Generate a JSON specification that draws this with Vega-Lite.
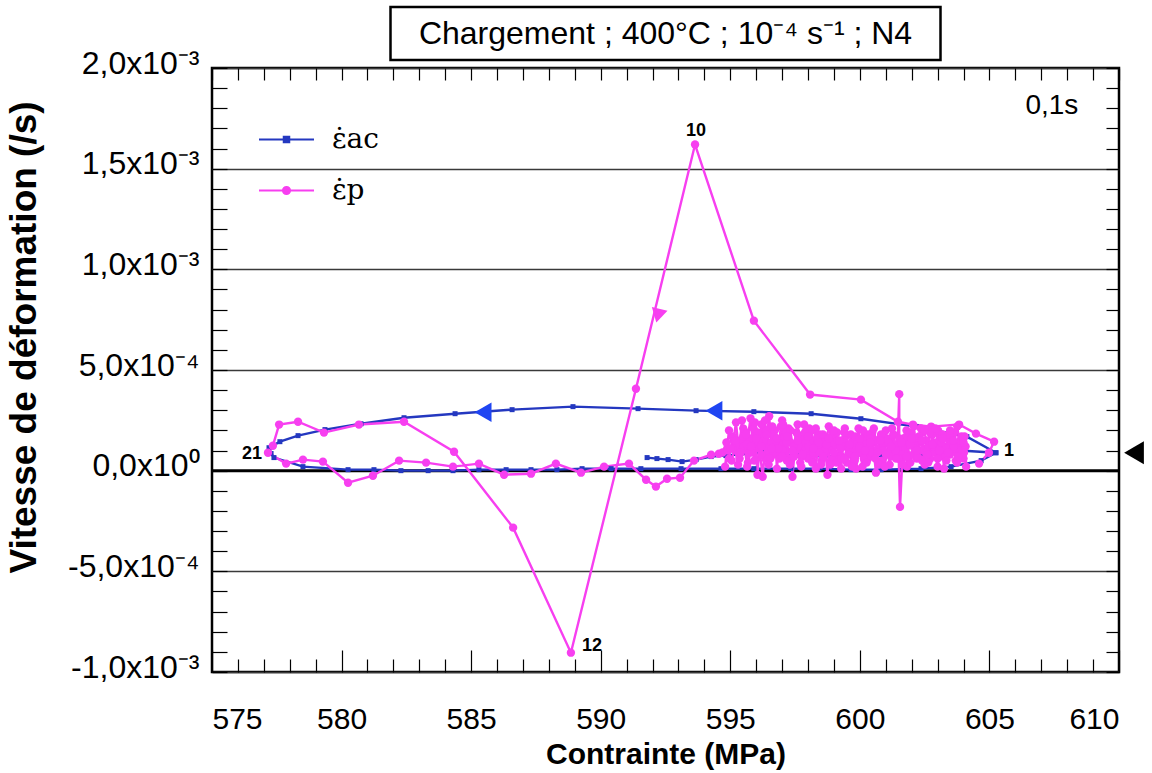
{
  "$schema": "https://vega.github.io/schema/vega-lite/v6.json",
  "autosize": {"type": "pad"},
  "padding": {"left": 3, "top": 5, "right": 5, "bottom": 5},
  "background": "white",
  "config": {
    "view": {"stroke": "black", "strokeWidth": 2.5},
    "font": "Liberation Sans",
    "axis": {"tickColor": "black", "tickWidth": 1.2, "labelColor": "black", "titleColor": "black", "domain": false, "labelOverlap": false}
  },
  "spacing": 8,
  "bounds": "flush",
  "center": true,
  "datasets": {
    "curves": [
      {"series": "ac", "o": 1, "x": 591.79, "y": 0.000065},
      {"series": "ac", "o": 2, "x": 592.17, "y": 0.000060},
      {"series": "ac", "o": 3, "x": 592.60, "y": 0.000055},
      {"series": "ac", "o": 4, "x": 593.14, "y": 0.000045},
      {"series": "ac", "o": 5, "x": 593.68, "y": 0.000055},
      {"series": "ac", "o": 6, "x": 594.26, "y": 0.000070},
      {"series": "ac", "o": 7, "x": 594.83, "y": 0.000075},
      {"series": "ac", "o": 8, "x": 596.19, "y": 0.000089},
      {"series": "ac", "o": 9, "x": 597.54, "y": 0.000075},
      {"series": "ac", "o": 10, "x": 599.00, "y": 0.000070},
      {"series": "ac", "o": 11, "x": 599.54, "y": 0.000075},
      {"series": "ac", "o": 12, "x": 600.82, "y": 0.000080},
      {"series": "ac", "o": 13, "x": 602.36, "y": 0.000089},
      {"series": "ac", "o": 14, "x": 604.02, "y": 0.000099},
      {"series": "ac", "o": 15, "x": 605.25, "y": 0.000089},
      {"series": "ac", "o": 16, "x": 604.13, "y": 0.000169},
      {"series": "ac", "o": 17, "x": 602.17, "y": 0.000219},
      {"series": "ac", "o": 18, "x": 600.04, "y": 0.000258},
      {"series": "ac", "o": 19, "x": 598.12, "y": 0.000283},
      {"series": "ac", "o": 20, "x": 595.91, "y": 0.000293},
      {"series": "ac", "o": 21, "x": 593.68, "y": 0.000298},
      {"series": "ac", "o": 22, "x": 591.44, "y": 0.000308},
      {"series": "ac", "o": 23, "x": 588.93, "y": 0.000318},
      {"series": "ac", "o": 24, "x": 586.58, "y": 0.000303},
      {"series": "ac", "o": 25, "x": 584.38, "y": 0.000283},
      {"series": "ac", "o": 26, "x": 582.41, "y": 0.000263},
      {"series": "ac", "o": 27, "x": 580.75, "y": 0.000233},
      {"series": "ac", "o": 28, "x": 579.36, "y": 0.000204},
      {"series": "ac", "o": 29, "x": 578.32, "y": 0.000174},
      {"series": "ac", "o": 30, "x": 577.62, "y": 0.000144},
      {"series": "ac", "o": 31, "x": 577.20, "y": 0.000114},
      {"series": "ac", "o": 32, "x": 577.28, "y": 0.000085},
      {"series": "ac", "o": 33, "x": 577.39, "y": 0.000065},
      {"series": "ac", "o": 34, "x": 578.51, "y": 0.000020},
      {"series": "ac", "o": 35, "x": 580.25, "y": 0.000005},
      {"series": "ac", "o": 36, "x": 581.25, "y": 0.000005},
      {"series": "ac", "o": 37, "x": 582.29, "y": 0.0},
      {"series": "ac", "o": 38, "x": 583.34, "y": 0.0},
      {"series": "ac", "o": 39, "x": 584.30, "y": 0.0},
      {"series": "ac", "o": 40, "x": 585.30, "y": 0.000005},
      {"series": "ac", "o": 41, "x": 586.35, "y": 0.000005},
      {"series": "ac", "o": 42, "x": 587.31, "y": 0.000005},
      {"series": "ac", "o": 43, "x": 588.31, "y": 0.000005},
      {"series": "ac", "o": 44, "x": 589.28, "y": 0.000010},
      {"series": "ac", "o": 45, "x": 590.40, "y": 0.000010},
      {"series": "ac", "o": 46, "x": 591.55, "y": 0.000010},
      {"series": "ac", "o": 47, "x": 593.10, "y": 0.000010},
      {"series": "ac", "o": 48, "x": 594.64, "y": 0.000010},
      {"series": "ac", "o": 49, "x": 595.91, "y": 0.000010},
      {"series": "ac", "o": 50, "x": 597.34, "y": 0.000010},
      {"series": "ac", "o": 51, "x": 598.42, "y": 0.000010},
      {"series": "ac", "o": 52, "x": 599.66, "y": 0.000005},
      {"series": "ac", "o": 53, "x": 600.82, "y": 0.000005},
      {"series": "ac", "o": 54, "x": 602.36, "y": 0.000010},
      {"series": "ac", "o": 55, "x": 603.52, "y": 0.000020},
      {"series": "ac", "o": 56, "x": 604.68, "y": 0.000050},
      {"series": "ac", "o": 57, "x": 605.25, "y": 0.000089},
      {"series": "p", "o": 1, "x": 604.60, "y": 0.000035},
      {"series": "p", "o": 2, "x": 604.98, "y": 0.000089},
      {"series": "p", "o": 3, "x": 605.18, "y": 0.000144},
      {"series": "p", "o": 4, "x": 604.48, "y": 0.000184},
      {"series": "p", "o": 5, "x": 603.83, "y": 0.000229},
      {"series": "p", "o": 6, "x": 602.75, "y": 0.000219},
      {"series": "p", "o": 7, "x": 602.05, "y": 0.000229},
      {"series": "p", "o": 8, "x": 601.47, "y": 0.000243},
      {"series": "p", "o": 9, "x": 600.04, "y": 0.000353},
      {"series": "p", "o": 10, "x": 598.08, "y": 0.000378},
      {"series": "p", "o": 11, "x": 595.91, "y": 0.000745},
      {"series": "p", "o": 12, "x": 593.64, "y": 0.001620},
      {"series": "p", "o": 13, "x": 591.36, "y": 0.000407},
      {"series": "p", "o": 14, "x": 588.85, "y": -0.000904},
      {"series": "p", "o": 15, "x": 586.62, "y": -0.000283},
      {"series": "p", "o": 16, "x": 584.34, "y": 0.000094},
      {"series": "p", "o": 17, "x": 582.41, "y": 0.000243},
      {"series": "p", "o": 18, "x": 580.67, "y": 0.000229},
      {"series": "p", "o": 19, "x": 579.32, "y": 0.000189},
      {"series": "p", "o": 20, "x": 578.32, "y": 0.000243},
      {"series": "p", "o": 21, "x": 577.59, "y": 0.000229},
      {"series": "p", "o": 22, "x": 577.35, "y": 0.000124},
      {"series": "p", "o": 23, "x": 577.16, "y": 0.000089},
      {"series": "p", "o": 24, "x": 577.86, "y": 0.000035},
      {"series": "p", "o": 25, "x": 578.51, "y": 0.000055},
      {"series": "p", "o": 26, "x": 579.28, "y": 0.000045},
      {"series": "p", "o": 27, "x": 580.25, "y": -0.000060},
      {"series": "p", "o": 28, "x": 581.21, "y": -0.000025},
      {"series": "p", "o": 29, "x": 582.22, "y": 0.000050},
      {"series": "p", "o": 30, "x": 583.26, "y": 0.000040},
      {"series": "p", "o": 31, "x": 584.30, "y": 0.000020},
      {"series": "p", "o": 32, "x": 585.30, "y": 0.000035},
      {"series": "p", "o": 33, "x": 586.27, "y": -0.000020},
      {"series": "p", "o": 34, "x": 587.31, "y": -0.000015},
      {"series": "p", "o": 35, "x": 588.27, "y": 0.000035},
      {"series": "p", "o": 36, "x": 589.24, "y": -0.000010},
      {"series": "p", "o": 37, "x": 590.13, "y": 0.000020},
      {"series": "p", "o": 38, "x": 591.09, "y": 0.000035},
      {"series": "p", "o": 39, "x": 591.75, "y": -0.000045},
      {"series": "p", "o": 40, "x": 592.13, "y": -0.000079},
      {"series": "p", "o": 41, "x": 592.56, "y": -0.000040},
      {"series": "p", "o": 42, "x": 593.06, "y": -0.000035},
      {"series": "p", "o": 43, "x": 593.60, "y": 0.000050},
      {"series": "p", "o": 44, "x": 594.26, "y": 0.000079},
      {"series": "p", "o": 45, "x": 594.56, "y": 0.000084},
      {"series": "p", "o": 46, "x": 594.70, "y": 0.000090},
      {"series": "p", "o": 47, "x": 594.85, "y": 0.000140},
      {"series": "p", "o": 48, "x": 594.95, "y": 0.000060},
      {"series": "p", "o": 49, "x": 595.10, "y": 0.000170},
      {"series": "p", "o": 50, "x": 595.20, "y": 0.000100},
      {"series": "p", "o": 51, "x": 595.30, "y": 0.000030},
      {"series": "p", "o": 52, "x": 595.38, "y": 0.000150},
      {"series": "p", "o": 53, "x": 595.45, "y": 0.000250},
      {"series": "p", "o": 54, "x": 595.52, "y": 0.000120},
      {"series": "p", "o": 55, "x": 595.60, "y": 0.000190},
      {"series": "p", "o": 56, "x": 595.68, "y": 0.000040},
      {"series": "p", "o": 57, "x": 595.75, "y": 0.000160},
      {"series": "p", "o": 58, "x": 595.82, "y": 0.000090},
      {"series": "p", "o": 59, "x": 595.90, "y": 0.000210},
      {"series": "p", "o": 60, "x": 595.98, "y": 0.000130},
      {"series": "p", "o": 61, "x": 596.05, "y": -0.000020},
      {"series": "p", "o": 62, "x": 596.12, "y": 0.000110},
      {"series": "p", "o": 63, "x": 596.20, "y": 0.000230},
      {"series": "p", "o": 64, "x": 596.28, "y": 0.000150},
      {"series": "p", "o": 65, "x": 596.35, "y": 0.000060},
      {"series": "p", "o": 66, "x": 596.42, "y": 0.000180},
      {"series": "p", "o": 67, "x": 596.50, "y": 0.000270},
      {"series": "p", "o": 68, "x": 596.58, "y": 0.000140},
      {"series": "p", "o": 69, "x": 596.65, "y": 0.000080},
      {"series": "p", "o": 70, "x": 596.72, "y": 0.000200},
      {"series": "p", "o": 71, "x": 596.80, "y": 0.000010},
      {"series": "p", "o": 72, "x": 596.88, "y": 0.000130},
      {"series": "p", "o": 73, "x": 596.95, "y": 0.000220},
      {"series": "p", "o": 74, "x": 597.02, "y": 0.000100},
      {"series": "p", "o": 75, "x": 597.10, "y": 0.000170},
      {"series": "p", "o": 76, "x": 597.18, "y": 0.000050},
      {"series": "p", "o": 77, "x": 597.25, "y": 0.000210},
      {"series": "p", "o": 78, "x": 597.32, "y": 0.000140},
      {"series": "p", "o": 79, "x": 597.40, "y": -0.000030},
      {"series": "p", "o": 80, "x": 597.48, "y": 0.000090},
      {"series": "p", "o": 81, "x": 597.55, "y": 0.000190},
      {"series": "p", "o": 82, "x": 597.62, "y": 0.000120},
      {"series": "p", "o": 83, "x": 597.70, "y": 0.000040},
      {"series": "p", "o": 84, "x": 597.78, "y": 0.000160},
      {"series": "p", "o": 85, "x": 597.85, "y": 0.000230},
      {"series": "p", "o": 86, "x": 597.92, "y": 0.000110},
      {"series": "p", "o": 87, "x": 598.00, "y": 0.000060},
      {"series": "p", "o": 88, "x": 598.08, "y": 0.000150},
      {"series": "p", "o": 89, "x": 598.15, "y": 0.000200},
      {"series": "p", "o": 90, "x": 598.22, "y": 0.000080},
      {"series": "p", "o": 91, "x": 598.30, "y": 0.000010},
      {"series": "p", "o": 92, "x": 598.38, "y": 0.000120},
      {"series": "p", "o": 93, "x": 598.45, "y": 0.000180},
      {"series": "p", "o": 94, "x": 598.52, "y": 0.000050},
      {"series": "p", "o": 95, "x": 598.60, "y": 0.000140},
      {"series": "p", "o": 96, "x": 598.68, "y": 0.000090},
      {"series": "p", "o": 97, "x": 598.75, "y": -0.000020},
      {"series": "p", "o": 98, "x": 598.82, "y": 0.000110},
      {"series": "p", "o": 99, "x": 598.90, "y": 0.000170},
      {"series": "p", "o": 100, "x": 598.98, "y": 0.000060},
      {"series": "p", "o": 101, "x": 599.05, "y": 0.000130},
      {"series": "p", "o": 102, "x": 599.12, "y": 0.000190},
      {"series": "p", "o": 103, "x": 599.20, "y": 0.000070},
      {"series": "p", "o": 104, "x": 599.28, "y": 0.000010},
      {"series": "p", "o": 105, "x": 599.35, "y": 0.000120},
      {"series": "p", "o": 106, "x": 599.42, "y": 0.000160},
      {"series": "p", "o": 107, "x": 599.50, "y": 0.000040},
      {"series": "p", "o": 108, "x": 599.58, "y": 0.000100},
      {"series": "p", "o": 109, "x": 599.65, "y": 0.000180},
      {"series": "p", "o": 110, "x": 599.72, "y": 0.000130},
      {"series": "p", "o": 111, "x": 599.80, "y": 0.000050},
      {"series": "p", "o": 112, "x": 599.88, "y": 0.000150},
      {"series": "p", "o": 113, "x": 599.95, "y": 0.000210},
      {"series": "p", "o": 114, "x": 600.02, "y": 0.000090},
      {"series": "p", "o": 115, "x": 600.10, "y": 0.000020},
      {"series": "p", "o": 116, "x": 600.18, "y": 0.000140},
      {"series": "p", "o": 117, "x": 600.25, "y": 0.000170},
      {"series": "p", "o": 118, "x": 600.32, "y": 0.000060},
      {"series": "p", "o": 119, "x": 600.40, "y": 0.000120},
      {"series": "p", "o": 120, "x": 600.48, "y": 0.000190},
      {"series": "p", "o": 121, "x": 600.55, "y": 0.000080},
      {"series": "p", "o": 122, "x": 600.62, "y": -0.000010},
      {"series": "p", "o": 123, "x": 600.70, "y": 0.000110},
      {"series": "p", "o": 124, "x": 600.78, "y": 0.000160},
      {"series": "p", "o": 125, "x": 600.85, "y": 0.000050},
      {"series": "p", "o": 126, "x": 600.92, "y": 0.000130},
      {"series": "p", "o": 127, "x": 601.00, "y": 0.000200},
      {"series": "p", "o": 128, "x": 601.08, "y": 0.000090},
      {"series": "p", "o": 129, "x": 601.15, "y": 0.000030},
      {"series": "p", "o": 130, "x": 601.22, "y": 0.000150},
      {"series": "p", "o": 131, "x": 601.30, "y": 0.000180},
      {"series": "p", "o": 132, "x": 601.38, "y": 0.000070},
      {"series": "p", "o": 133, "x": 601.45, "y": 0.000120},
      {"series": "p", "o": 134, "x": 601.52, "y": 0.000380},
      {"series": "p", "o": 135, "x": 601.52, "y": 0.000100},
      {"series": "p", "o": 136, "x": 601.60, "y": 0.000050},
      {"series": "p", "o": 137, "x": 601.68, "y": 0.000160},
      {"series": "p", "o": 138, "x": 601.75, "y": 0.000110},
      {"series": "p", "o": 139, "x": 601.82, "y": 0.000020},
      {"series": "p", "o": 140, "x": 601.90, "y": 0.000140},
      {"series": "p", "o": 141, "x": 601.98, "y": 0.000190},
      {"series": "p", "o": 142, "x": 602.05, "y": 0.000080},
      {"series": "p", "o": 143, "x": 602.12, "y": 0.000130},
      {"series": "p", "o": 144, "x": 602.20, "y": 0.000060},
      {"series": "p", "o": 145, "x": 602.28, "y": 0.000170},
      {"series": "p", "o": 146, "x": 602.35, "y": 0.000210},
      {"series": "p", "o": 147, "x": 602.42, "y": 0.000100},
      {"series": "p", "o": 148, "x": 602.50, "y": 0.000030},
      {"series": "p", "o": 149, "x": 602.58, "y": 0.000150},
      {"series": "p", "o": 150, "x": 602.65, "y": 0.000120},
      {"series": "p", "o": 151, "x": 602.72, "y": 0.000060},
      {"series": "p", "o": 152, "x": 602.80, "y": 0.000180},
      {"series": "p", "o": 153, "x": 602.88, "y": 0.000090},
      {"series": "p", "o": 154, "x": 602.95, "y": 0.000140},
      {"series": "p", "o": 155, "x": 603.02, "y": 0.000200},
      {"series": "p", "o": 156, "x": 603.10, "y": 0.000070},
      {"series": "p", "o": 157, "x": 603.18, "y": 0.000120},
      {"series": "p", "o": 158, "x": 603.25, "y": 0.000010},
      {"series": "p", "o": 159, "x": 603.32, "y": 0.000110},
      {"series": "p", "o": 160, "x": 603.40, "y": 0.000160},
      {"series": "p", "o": 161, "x": 603.48, "y": 0.000080},
      {"series": "p", "o": 162, "x": 603.55, "y": 0.000140},
      {"series": "p", "o": 163, "x": 603.62, "y": 0.000190},
      {"series": "p", "o": 164, "x": 603.70, "y": 0.000050},
      {"series": "p", "o": 165, "x": 603.78, "y": 0.000130},
      {"series": "p", "o": 166, "x": 603.85, "y": 0.000100},
      {"series": "p", "o": 167, "x": 603.92, "y": 0.000170},
      {"series": "p", "o": 168, "x": 604.00, "y": 0.000060},
      {"series": "p", "o": 169, "x": 604.08, "y": 0.000120},
      {"series": "p", "o": 170, "x": 604.10, "y": 0.000020},
      {"series": "p", "o": 171, "x": 604.02, "y": 0.000090},
      {"series": "p", "o": 172, "x": 603.88, "y": 0.000150},
      {"series": "p", "o": 173, "x": 603.75, "y": 0.000040},
      {"series": "p", "o": 174, "x": 603.60, "y": 0.000110},
      {"series": "p", "o": 175, "x": 603.45, "y": 0.000180},
      {"series": "p", "o": 176, "x": 603.30, "y": 0.000070},
      {"series": "p", "o": 177, "x": 603.15, "y": 0.000140},
      {"series": "p", "o": 178, "x": 603.00, "y": 0.000020},
      {"series": "p", "o": 179, "x": 602.85, "y": 0.000120},
      {"series": "p", "o": 180, "x": 602.70, "y": 0.000190},
      {"series": "p", "o": 181, "x": 602.55, "y": 0.000090},
      {"series": "p", "o": 182, "x": 602.40, "y": 0.000050},
      {"series": "p", "o": 183, "x": 602.25, "y": 0.000160},
      {"series": "p", "o": 184, "x": 602.10, "y": 0.000110},
      {"series": "p", "o": 185, "x": 601.95, "y": 0.000040},
      {"series": "p", "o": 186, "x": 601.80, "y": 0.000170},
      {"series": "p", "o": 187, "x": 601.65, "y": 0.000080},
      {"series": "p", "o": 188, "x": 601.55, "y": -0.000180},
      {"series": "p", "o": 189, "x": 601.50, "y": 0.000060},
      {"series": "p", "o": 190, "x": 601.35, "y": 0.000130},
      {"series": "p", "o": 191, "x": 601.20, "y": 0.000070},
      {"series": "p", "o": 192, "x": 601.05, "y": 0.000160},
      {"series": "p", "o": 193, "x": 600.90, "y": 0.000100},
      {"series": "p", "o": 194, "x": 600.75, "y": 0.000030},
      {"series": "p", "o": 195, "x": 600.60, "y": 0.000150},
      {"series": "p", "o": 196, "x": 600.45, "y": 0.000090},
      {"series": "p", "o": 197, "x": 600.30, "y": 0.000180},
      {"series": "p", "o": 198, "x": 600.15, "y": 0.000060},
      {"series": "p", "o": 199, "x": 600.00, "y": 0.000120},
      {"series": "p", "o": 200, "x": 599.85, "y": 0.000010},
      {"series": "p", "o": 201, "x": 599.70, "y": 0.000140},
      {"series": "p", "o": 202, "x": 599.55, "y": 0.000080},
      {"series": "p", "o": 203, "x": 599.40, "y": 0.000190},
      {"series": "p", "o": 204, "x": 599.25, "y": 0.000110},
      {"series": "p", "o": 205, "x": 599.10, "y": 0.000040},
      {"series": "p", "o": 206, "x": 598.95, "y": 0.000140},
      {"series": "p", "o": 207, "x": 598.80, "y": 0.000220},
      {"series": "p", "o": 208, "x": 598.65, "y": 0.000100},
      {"series": "p", "o": 209, "x": 598.50, "y": 0.000030},
      {"series": "p", "o": 210, "x": 598.35, "y": 0.000160},
      {"series": "p", "o": 211, "x": 598.20, "y": 0.000090},
      {"series": "p", "o": 212, "x": 598.05, "y": 0.000210},
      {"series": "p", "o": 213, "x": 597.90, "y": 0.000140},
      {"series": "p", "o": 214, "x": 597.75, "y": 0.000070},
      {"series": "p", "o": 215, "x": 597.60, "y": 0.000230},
      {"series": "p", "o": 216, "x": 597.45, "y": 0.000120},
      {"series": "p", "o": 217, "x": 597.30, "y": 0.000030},
      {"series": "p", "o": 218, "x": 597.15, "y": 0.000190},
      {"series": "p", "o": 219, "x": 597.00, "y": 0.000250},
      {"series": "p", "o": 220, "x": 596.85, "y": 0.000110},
      {"series": "p", "o": 221, "x": 596.70, "y": 0.000170},
      {"series": "p", "o": 222, "x": 596.55, "y": 0.000060},
      {"series": "p", "o": 223, "x": 596.40, "y": 0.000200},
      {"series": "p", "o": 224, "x": 596.25, "y": -0.000030},
      {"series": "p", "o": 225, "x": 596.10, "y": 0.000140},
      {"series": "p", "o": 226, "x": 595.95, "y": 0.000240},
      {"series": "p", "o": 227, "x": 595.80, "y": 0.000100},
      {"series": "p", "o": 228, "x": 595.65, "y": 0.000020},
      {"series": "p", "o": 229, "x": 595.50, "y": 0.000170},
      {"series": "p", "o": 230, "x": 595.35, "y": 0.000080},
      {"series": "p", "o": 231, "x": 595.20, "y": 0.000130},
      {"series": "p", "o": 232, "x": 595.05, "y": 0.000050},
      {"series": "p", "o": 233, "x": 594.90, "y": 0.000100},
      {"series": "p", "o": 234, "x": 594.80, "y": 0.000020},
      {"series": "p", "o": 235, "x": 594.95, "y": 0.000200},
      {"series": "p", "o": 236, "x": 595.08, "y": 0.000110},
      {"series": "p", "o": 237, "x": 595.22, "y": 0.000240},
      {"series": "p", "o": 238, "x": 595.36, "y": 0.000060},
      {"series": "p", "o": 239, "x": 595.50, "y": 0.000210},
      {"series": "p", "o": 240, "x": 595.64, "y": 0.000130},
      {"series": "p", "o": 241, "x": 595.78, "y": 0.000260},
      {"series": "p", "o": 242, "x": 595.92, "y": 0.000050},
      {"series": "p", "o": 243, "x": 596.06, "y": 0.000190},
      {"series": "p", "o": 244, "x": 596.20, "y": 0.000120},
      {"series": "p", "o": 245, "x": 596.34, "y": 0.000250},
      {"series": "p", "o": 246, "x": 596.48, "y": 0.000030},
      {"series": "p", "o": 247, "x": 596.62, "y": 0.000220},
      {"series": "p", "o": 248, "x": 596.76, "y": 0.000150},
      {"series": "p", "o": 249, "x": 596.90, "y": 0.000060},
      {"series": "p", "o": 250, "x": 597.04, "y": 0.000230},
      {"series": "p", "o": 251, "x": 597.18, "y": 0.000140},
      {"series": "p", "o": 252, "x": 597.32, "y": 0.000200},
      {"series": "p", "o": 253, "x": 597.46, "y": 0.000070},
      {"series": "p", "o": 254, "x": 597.60, "y": 0.000180},
      {"series": "p", "o": 255, "x": 597.74, "y": 0.000020},
      {"series": "p", "o": 256, "x": 597.88, "y": 0.000190},
      {"series": "p", "o": 257, "x": 598.02, "y": 0.000120},
      {"series": "p", "o": 258, "x": 598.16, "y": 0.000040},
      {"series": "p", "o": 259, "x": 598.30, "y": 0.000210},
      {"series": "p", "o": 260, "x": 598.44, "y": 0.000090},
      {"series": "p", "o": 261, "x": 598.58, "y": 0.000180},
      {"series": "p", "o": 262, "x": 598.72, "y": 0.000130},
      {"series": "p", "o": 263, "x": 598.86, "y": 0.000030},
      {"series": "p", "o": 264, "x": 599.00, "y": 0.000200},
      {"series": "p", "o": 265, "x": 599.14, "y": 0.000150},
      {"series": "p", "o": 266, "x": 599.28, "y": 0.000060},
      {"series": "p", "o": 267, "x": 599.42, "y": 0.000210},
      {"series": "p", "o": 268, "x": 599.56, "y": 0.000120},
      {"series": "p", "o": 269, "x": 599.70, "y": 0.000020},
      {"series": "p", "o": 270, "x": 599.84, "y": 0.000170},
      {"series": "p", "o": 271, "x": 599.98, "y": 0.000110},
      {"series": "p", "o": 272, "x": 600.12, "y": 0.000200},
      {"series": "p", "o": 273, "x": 600.26, "y": 0.000040},
      {"series": "p", "o": 274, "x": 600.40, "y": 0.000160},
      {"series": "p", "o": 275, "x": 600.54, "y": 0.000210},
      {"series": "p", "o": 276, "x": 600.68, "y": 0.000090},
      {"series": "p", "o": 277, "x": 600.82, "y": 0.000180},
      {"series": "p", "o": 278, "x": 600.96, "y": 0.000020},
      {"series": "p", "o": 279, "x": 601.10, "y": 0.000140},
      {"series": "p", "o": 280, "x": 601.24, "y": 0.000210},
      {"series": "p", "o": 281, "x": 601.38, "y": 0.000100},
      {"series": "p", "o": 282, "x": 601.52, "y": 0.000160},
      {"series": "p", "o": 283, "x": 601.66, "y": 0.000030},
      {"series": "p", "o": 284, "x": 601.80, "y": 0.000200},
      {"series": "p", "o": 285, "x": 601.94, "y": 0.000130},
      {"series": "p", "o": 286, "x": 602.08, "y": 0.000220},
      {"series": "p", "o": 287, "x": 602.22, "y": 0.000070},
      {"series": "p", "o": 288, "x": 602.36, "y": 0.000150},
      {"series": "p", "o": 289, "x": 602.50, "y": 0.000200},
      {"series": "p", "o": 290, "x": 602.64, "y": 0.000040},
      {"series": "p", "o": 291, "x": 602.78, "y": 0.000130},
      {"series": "p", "o": 292, "x": 602.92, "y": 0.000210},
      {"series": "p", "o": 293, "x": 603.06, "y": 0.000100},
      {"series": "p", "o": 294, "x": 603.20, "y": 0.000180},
      {"series": "p", "o": 295, "x": 603.34, "y": 0.000050},
      {"series": "p", "o": 296, "x": 603.48, "y": 0.000200},
      {"series": "p", "o": 297, "x": 603.62, "y": 0.000120},
      {"series": "p", "o": 298, "x": 603.76, "y": 0.000220},
      {"series": "p", "o": 299, "x": 603.90, "y": 0.000080},
      {"series": "p", "o": 300, "x": 604.04, "y": 0.000170},
      {"series": "p", "o": 301, "x": 604.00, "y": 0.000140},
      {"series": "p", "o": 302, "x": 603.80, "y": 0.000070},
      {"series": "p", "o": 303, "x": 603.60, "y": 0.000150},
      {"series": "p", "o": 304, "x": 603.40, "y": 0.000090},
      {"series": "p", "o": 305, "x": 603.20, "y": 0.000160},
      {"series": "p", "o": 306, "x": 603.00, "y": 0.000060},
      {"series": "p", "o": 307, "x": 602.80, "y": 0.000130},
      {"series": "p", "o": 308, "x": 602.60, "y": 0.000080},
      {"series": "p", "o": 309, "x": 602.40, "y": 0.000150},
      {"series": "p", "o": 310, "x": 602.20, "y": 0.000100},
      {"series": "p", "o": 311, "x": 602.00, "y": 0.000160},
      {"series": "p", "o": 312, "x": 601.80, "y": 0.000070},
      {"series": "p", "o": 313, "x": 601.60, "y": 0.000140},
      {"series": "p", "o": 314, "x": 601.40, "y": 0.000060},
      {"series": "p", "o": 315, "x": 601.20, "y": 0.000120},
      {"series": "p", "o": 316, "x": 601.00, "y": 0.000080},
      {"series": "p", "o": 317, "x": 600.80, "y": 0.000150},
      {"series": "p", "o": 318, "x": 600.60, "y": 0.000060},
      {"series": "p", "o": 319, "x": 600.40, "y": 0.000140},
      {"series": "p", "o": 320, "x": 600.20, "y": 0.000100},
      {"series": "p", "o": 321, "x": 600.00, "y": 0.000160},
      {"series": "p", "o": 322, "x": 599.80, "y": 0.000070},
      {"series": "p", "o": 323, "x": 599.60, "y": 0.000130},
      {"series": "p", "o": 324, "x": 599.40, "y": 0.000060},
      {"series": "p", "o": 325, "x": 599.20, "y": 0.000150},
      {"series": "p", "o": 326, "x": 599.00, "y": 0.000090},
      {"series": "p", "o": 327, "x": 598.80, "y": 0.000160},
      {"series": "p", "o": 328, "x": 598.60, "y": 0.000070},
      {"series": "p", "o": 329, "x": 598.40, "y": 0.000140},
      {"series": "p", "o": 330, "x": 598.20, "y": 0.000110},
      {"series": "p", "o": 331, "x": 598.00, "y": 0.000170},
      {"series": "p", "o": 332, "x": 597.80, "y": 0.000080},
      {"series": "p", "o": 333, "x": 597.60, "y": 0.000150},
      {"series": "p", "o": 334, "x": 597.40, "y": 0.000100},
      {"series": "p", "o": 335, "x": 597.20, "y": 0.000170},
      {"series": "p", "o": 336, "x": 597.00, "y": 0.000070},
      {"series": "p", "o": 337, "x": 596.80, "y": 0.000160},
      {"series": "p", "o": 338, "x": 596.60, "y": 0.000110},
      {"series": "p", "o": 339, "x": 596.40, "y": 0.000180},
      {"series": "p", "o": 340, "x": 596.20, "y": 0.000080},
      {"series": "p", "o": 341, "x": 596.00, "y": 0.000160},
      {"series": "p", "o": 342, "x": 595.80, "y": 0.000120},
      {"series": "p", "o": 343, "x": 595.60, "y": 0.000180},
      {"series": "p", "o": 344, "x": 595.40, "y": 0.000090},
      {"series": "p", "o": 345, "x": 595.20, "y": 0.000150},
      {"series": "p", "o": 346, "x": 595.00, "y": 0.000110}
    ],
    "arrows": [
      {"series": "ac", "x": 585.46, "y": 0.000290},
      {"series": "ac", "x": 594.37, "y": 0.000298},
      {"series": "p", "x": 592.21, "y": 0.000770}
    ],
    "pointLabels": [
      {"label": "10", "x": 593.68, "y": 0.001689},
      {"label": "12", "x": 589.66, "y": -0.000869},
      {"label": "1", "x": 605.76, "y": 0.000099},
      {"label": "21", "x": 576.54, "y": 0.000084}
    ],
    "timeNote": [{"label": "0,1s", "x": 607.41, "y": 0.001813}],
    "marker": [{"x": 610.58, "y": 0.000089}]
  },
  "vconcat": [
    {
      "width": 550,
      "height": 53,
      "view": {"stroke": "black", "strokeWidth": 2.5},
      "data": {"values": [{"t": "Chargement ; 400°C ; 10⁻⁴ s⁻¹ ; N4"}]},
      "mark": {"type": "text", "fontSize": 32, "font": "Liberation Sans", "baseline": "middle", "align": "center", "color": "black"},
      "encoding": {
        "x": {"datum": 0.5, "type": "quantitative", "scale": {"domain": [0, 1]}, "axis": null},
        "y": {"datum": 0.5, "type": "quantitative", "scale": {"domain": [0, 1]}, "axis": null},
        "text": {"field": "t"}
      }
    },
    {
      "width": 907,
      "height": 604,
      "resolve": {"axis": {"x": "independent", "y": "independent"}},
      "layer": [
        {
          "data": {"values": [{}]},
          "mark": {"type": "rule", "color": "black", "strokeWidth": 3},
          "encoding": {
            "y": {"datum": 0, "type": "quantitative", "axis": null, "scale": {"domain": [-0.001, 0.002], "nice": false, "zero": false}}
          }
        },
        {
          "data": {"name": "curves"},
          "mark": {"type": "line", "strokeWidth": 2.4},
          "encoding": {
            "x": {
              "field": "x", "type": "quantitative",
              "scale": {"domain": [575, 610], "nice": false, "zero": false},
              "axis": {
                "orient": "bottom",
                "values": [575,576,577,578,579,580,581,582,583,584,585,586,587,588,589,590,591,592,593,594,595,596,597,598,599,600,601,602,603,604,605,606,607,608,609,610],
                "labelExpr": "datum.value % 5 == 0 ? datum.label : ''",
                "tickSize": {"condition": {"test": "datum.value % 5 == 0", "value": -22}, "value": -13},
                "labelPadding": 54,
                "labelFontSize": 30,
                "grid": false,
                "title": "Contrainte (MPa)",
                "titleFontSize": 30,
                "titleFontWeight": "bold",
                "titleY": 82,
                "titleBaseline": "middle"
              }
            },
            "y": {
              "field": "y", "type": "quantitative",
              "scale": {"domain": [-0.001, 0.002], "nice": false, "zero": false},
              "axis": {
                "orient": "left",
                "values": [-0.001,-0.0009,-0.0008,-0.0007,-0.0006,-0.0005,-0.0004,-0.0003,-0.0002,-0.0001,0,0.0001,0.0002,0.0003,0.0004,0.0005,0.0006,0.0007,0.0008,0.0009,0.001,0.0011,0.0012,0.0013,0.0014,0.0015,0.0016,0.0017,0.0018,0.0019,0.002],
                "labelExpr": "round(datum.value*10000)==20?'2,0x10⁻³':round(datum.value*10000)==15?'1,5x10⁻³':round(datum.value*10000)==10?'1,0x10⁻³':round(datum.value*10000)==5?'5,0x10⁻⁴':round(datum.value*10000)==0?'0,0x10⁰':round(datum.value*10000)==-5?'-5,0x10⁻⁴':round(datum.value*10000)==-10?'-1,0x10⁻³':''",
                "tickSize": -15,
                "labelPadding": 28,
                "labelOffset": -5,
                "labelFontSize": 32,
                "grid": true,
                "gridColor": "#3a3a3a",
                "gridWidth": 1.5,
                "gridOpacity": {"condition": {"test": "round(datum.value*10000)%5==0 && round(datum.value*10000)!=0", "value": 1}, "value": 0},
                "title": "Vitesse de déformation (/s)",
                "titleFontSize": 37,
                "titleFontWeight": "bold",
                "titleX": -188,
                "titleY": 269,
                "titleAlign": "center",
                "titleBaseline": "middle"
              }
            },
            "color": {
              "field": "series", "type": "nominal",
              "scale": {"domain": ["ac", "p"], "range": ["#2438c0", "#f73ff0"]},
              "legend": {
                "orient": "none",
                "legendX": 46,
                "legendY": 104,
                "title": null,
                "padding": 0,
                "symbolSize": 3025,
                "symbolStrokeWidth": 2,
                "rowPadding": 8,
                "labelOffset": 17,
                "labelFont": "DejaVu Serif",
                "labelFontSize": 28,
                "labelColor": "black",
                "labelExpr": "datum.value == 'ac' ? 'ε̇ac' : 'ε̇p'",
                "encode": {
                  "symbols": {
                    "update": {
                      "shape": {"signal": "datum.value == 'ac' ? 'M-1,0H1M-0.1,-0.1H0.1V0.1H-0.1Z' : 'M-1,0H1M-0.13,0A0.13,0.13,0,1,0,0.13,0A0.13,0.13,0,1,0,-0.13,0Z'"},
                      "fill": {"signal": "datum.value == 'ac' ? '#2438c0' : '#f73ff0'"},
                      "stroke": {"signal": "datum.value == 'ac' ? '#2438c0' : '#f73ff0'"}
                    }
                  }
                }
              }
            },
            "order": {"field": "o", "type": "quantitative"}
          }
        },
        {
          "data": {"name": "curves"},
          "transform": [{"filter": "datum.series == 'ac'"}],
          "mark": {"type": "point", "shape": "square", "filled": true, "size": 25, "color": "#2438c0", "opacity": 1},
          "encoding": {
            "x": {"field": "x", "type": "quantitative", "axis": null},
            "y": {"field": "y", "type": "quantitative", "axis": null}
          }
        },
        {
          "data": {"name": "curves"},
          "transform": [{"filter": "datum.series == 'p'"}],
          "mark": {"type": "point", "shape": "circle", "filled": true, "size": 70, "color": "#f73ff0", "opacity": 1},
          "encoding": {
            "x": {"field": "x", "type": "quantitative", "axis": null},
            "y": {"field": "y", "type": "quantitative", "axis": null}
          }
        },
        {
          "data": {"name": "arrows"},
          "transform": [{"filter": "datum.series == 'ac'"}],
          "mark": {"type": "point", "shape": "triangle-left", "filled": true, "size": 380, "color": "#1f45f2", "opacity": 1},
          "encoding": {
            "x": {"field": "x", "type": "quantitative", "axis": null},
            "y": {"field": "y", "type": "quantitative", "axis": null}
          }
        },
        {
          "data": {"name": "arrows"},
          "transform": [{"filter": "datum.series == 'p'"}],
          "mark": {"type": "point", "shape": "triangle-down", "angle": 14, "filled": true, "size": 260, "color": "#f73ff0", "opacity": 1},
          "encoding": {
            "x": {"field": "x", "type": "quantitative", "axis": null},
            "y": {"field": "y", "type": "quantitative", "axis": null}
          }
        },
        {
          "data": {"name": "pointLabels"},
          "mark": {"type": "text", "fontSize": 18, "fontWeight": "bold", "color": "black", "align": "center", "baseline": "middle"},
          "encoding": {
            "x": {
              "field": "x", "type": "quantitative",
              "axis": {"orient": "top", "values": [575,576,577,578,579,580,581,582,583,584,585,586,587,588,589,590,591,592,593,594,595,596,597,598,599,600,601,602,603,604,605,606,607,608,609,610], "labels": false, "tickSize": -12, "grid": false, "title": null}
            },
            "y": {
              "field": "y", "type": "quantitative",
              "axis": {"orient": "right", "values": [-0.001,-0.0009,-0.0008,-0.0007,-0.0006,-0.0005,-0.0004,-0.0003,-0.0002,-0.0001,0,0.0001,0.0002,0.0003,0.0004,0.0005,0.0006,0.0007,0.0008,0.0009,0.001,0.0011,0.0012,0.0013,0.0014,0.0015,0.0016,0.0017,0.0018,0.0019,0.002], "labels": false, "tickSize": -13, "grid": false, "title": null}
            },
            "text": {"field": "label"}
          }
        },
        {
          "data": {"name": "timeNote"},
          "mark": {"type": "text", "fontSize": 28, "color": "black", "align": "center", "baseline": "middle"},
          "encoding": {
            "x": {"field": "x", "type": "quantitative", "axis": null},
            "y": {"field": "y", "type": "quantitative", "axis": null},
            "text": {"field": "label"}
          }
        },
        {
          "data": {"name": "marker"},
          "mark": {"type": "point", "shape": "triangle-left", "filled": true, "size": 520, "color": "black", "opacity": 1},
          "encoding": {
            "x": {"field": "x", "type": "quantitative", "axis": null},
            "y": {"field": "y", "type": "quantitative", "axis": null}
          }
        }
      ]
    }
  ]
}
